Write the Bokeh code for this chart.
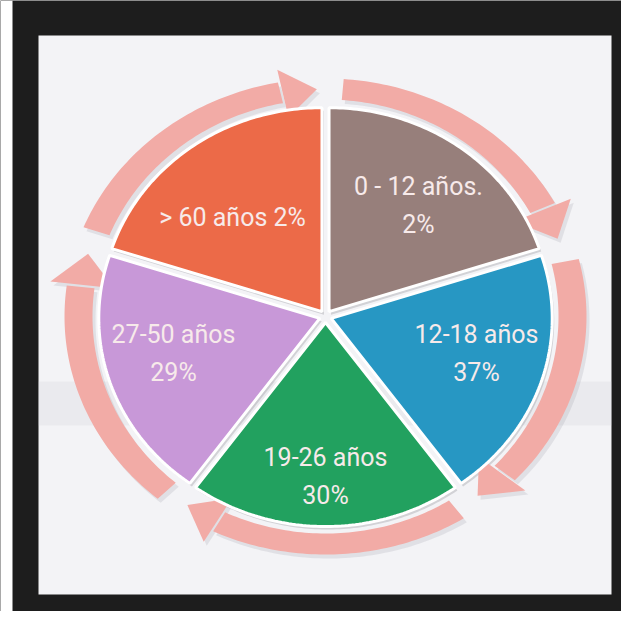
import numpy as np
from bokeh.plotting import figure
from bokeh.models import Range1d, ColumnDataSource
from bokeh.embed import file_html
from bokeh.resources import INLINE
from bokeh.core.properties import value

# ---------------- data ----------------
groups = ["0 - 12 años.", "12-18 años", "19-26 años", "27-50 años", "> 60 años"]
percent = [2, 37, 30, 29, 2]
slice_share = [1, 1, 1, 1, 1]          # the infographic draws five equal sectors
single_line = [False, False, False, False, True]

# ---------------- styles / layout ----------------
colors = ["#977F7B", "#2797C3", "#22A15F", "#C898D8", "#EC6A48"]
ring_color = "#F2ABA6"
label_color = "#F7EAEA"
frame_color = "#1D1D1D"
paper_color = "#F3F3F6"

CX, CY = 325, 316            # pie centre in picture pixels
W, H = 621, 611
RX_S, RY_S = 221, 204        # sector radii
RX_IN, RY_IN = 233, 217      # ring inner radii
RX_OUT, RY_OUT = 261, 238    # ring outer radii
EXPLODE = 6
START = 90.0                 # first sector starts at 12 o'clock, clockwise

# label anchor offsets (pixels, relative to centre) and line spacing
label_dx = [93, 151, 0, -152, -93]
label_dy = [111, -37, -160, -37, 99]
LINE_GAP = 19

def deg(a):
    return np.deg2rad(a)

def ring_pt(theta, u):
    rx = RX_IN + u * (RX_OUT - RX_IN)
    ry = RY_IN + u * (RY_OUT - RY_IN)
    return rx * np.cos(theta), ry * np.sin(theta)

p = figure(width=W, height=H,
           x_range=Range1d(0 - CX, W - CX),
           y_range=Range1d(CY - H, CY),
           x_axis_type=None, y_axis_type=None,
           output_backend="svg", toolbar_location=None,
           min_border=0, outline_line_color=None,
           background_fill_color=frame_color, border_fill_color=frame_color)
p.grid.visible = False

# paper (inside the black frame) and white strip at far left
p.quad(left=[38 - CX], right=[611 - CX], top=[CY - 35], bottom=[CY - 594],
       fill_color=paper_color, line_color=None)
p.quad(left=[0 - CX], right=[12 - CX], top=[CY], bottom=[CY - H],
       fill_color="#FFFFFF", line_color=None)
# faint scanning band
p.quad(left=[38 - CX], right=[611 - CX], top=[CY - 381], bottom=[CY - 425],
       fill_color="#C9C9D2", fill_alpha=0.2, line_color=None)

# ---------------- geometry from data ----------------
share = np.array(slice_share, dtype=float)
spans = 360.0 * share / share.sum()
a_start = START - np.concatenate([[0], np.cumsum(spans)[:-1]])
a_end = a_start - spans

sx, sy = [], []
rxs, rys = [], []
hx, hy = [], []
for a0, a1 in zip(a_start, a_end):
    mid = (a0 + a1) / 2
    ox, oy = EXPLODE * np.cos(deg(mid)), EXPLODE * np.sin(deg(mid))
    t = deg(np.linspace(a0, a1, 80))
    sx.append(np.concatenate([[ox], ox + RX_S * np.cos(t)]))
    sy.append(np.concatenate([[oy], oy + RY_S * np.sin(t)]))

    # ring arrow: body + head (clockwise)
    tip = a1 + 2.0
    head_base = tip + 8.0
    body_start = a0 - 4.0
    tb = deg(np.linspace(body_start, head_base + 0.5, 60))
    ox_o, oy_o = ring_pt(tb, 1.0)
    ox_i, oy_i = ring_pt(tb[::-1], 0.0)
    rxs.append(np.concatenate([ox_o, ox_i]))
    rys.append(np.concatenate([oy_o, oy_i]))
    hb, ht = deg(head_base), deg(tip)
    x1, y1 = ring_pt(hb, 1.6)
    x2, y2 = ring_pt(ht, 0.5)
    x3, y3 = ring_pt(hb, -0.7)
    hx.append(np.array([x1, x2, x3]))
    hy.append(np.array([y1, y2, y3]))

# shadows
p.patches(xs=[x + 3 for x in rxs], ys=[y - 4 for y in rys], fill_color="#7A7A85", fill_alpha=0.15, line_color=None)
p.patches(xs=[x + 3 for x in hx], ys=[y - 4 for y in hy], fill_color="#7A7A85", fill_alpha=0.15, line_color=None)
p.patches(xs=[x + 2 for x in sx], ys=[y - 3 for y in sy], fill_color="#6E6E78", fill_alpha=0.25, line_color=None)

# ring arrows
p.patches(xs=rxs, ys=rys, fill_color=ring_color, line_color=None)
p.patches(xs=hx, ys=hy, fill_color=ring_color, line_color=None)

# sectors
src = ColumnDataSource(dict(xs=sx, ys=sy, color=colors, group=groups, pct=percent))
p.patches(xs="xs", ys="ys", fill_color="color", line_color="#FFFFFF", line_width=3, source=src)

# ---------------- labels ----------------
l1x, l1y, l1t, l2x, l2y, l2t = [], [], [], [], [], []
for g, pc, one, dx, dy in zip(groups, percent, single_line, label_dx, label_dy):
    if one:
        l1x.append(dx); l1y.append(dy); l1t.append(f"{g} {pc}%")
    else:
        l1x.append(dx); l1y.append(dy + LINE_GAP); l1t.append(g)
        l2x.append(dx); l2y.append(dy - LINE_GAP); l2t.append(f"{pc}%")

font = value("Roboto")
p.text(x=l1x, y=l1y, text=l1t, text_font=font, text_font_size="25px",
       text_color=label_color, text_align="center", text_baseline="middle")
p.text(x=l2x, y=l2y, text=l2t, text_font=font, text_font_size="25px",
       text_color=label_color, text_align="center", text_baseline="middle")

open("out.html", "w").write(file_html(p, INLINE))
